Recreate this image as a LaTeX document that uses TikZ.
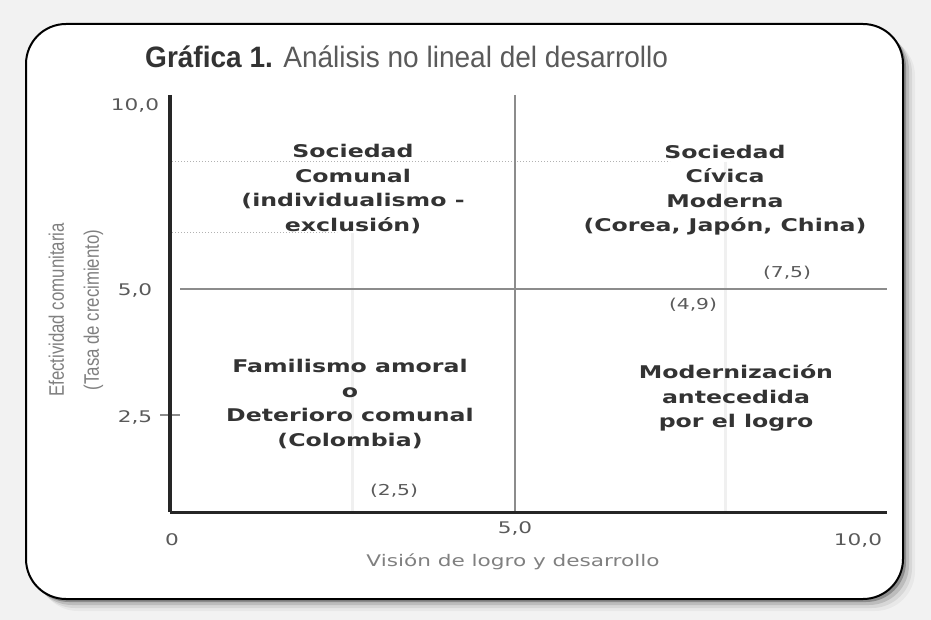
\documentclass[tikz,border=0pt]{standalone}
\usepackage{fontspec}
\usepackage{xcolor}
\usepackage{tikz}
\usetikzlibrary{positioning}
\setmainfont{DejaVu Sans}
\newfontfamily\widefont[FakeStretch=1.35]{DejaVu Sans}
\newfontfamily\titlefont[FakeStretch=0.95]{Liberation Sans}
\newfontfamily\narrowfont[FakeStretch=0.8]{Liberation Sans}
\definecolor{bgGray}{HTML}{F2F2F2}
\definecolor{textDark}{HTML}{333333}
\definecolor{textGray}{HTML}{5A5A5A}
\definecolor{axisGray}{HTML}{8C8C8C}

\begin{document}
\begin{tikzpicture}[
    x=1pt, y=-1pt,
    every node/.style={inner sep=0pt},
    quadrant/.style={font=\widefont\bfseries\fontsize{17.5}{24.5}\selectfont, text=textDark, align=center},
    tickLabel/.style={font=\widefont\fontsize{16}{18}\selectfont, text=textGray},
    pointLabel/.style={font=\widefont\fontsize{15}{17}\selectfont, text=textGray},
    axisTitle/.style={font=\narrowfont\fontsize{21}{35}\selectfont, text=gray, align=center},
    mainAxis/.style={line width=3.5pt, draw=black!85},
    midLine/.style={line width=2.5pt, draw=axisGray},
    guideLine/.style={line width=3pt, draw=black!6},
    dotLine/.style={line width=1pt, draw=gray!60, dotted}
]
\useasboundingbox (0,0) rectangle (931,620);

% Frame
\fill[bgGray] (0,0) rectangle (931,620);
\foreach \s/\op in {12/0.04, 9/0.07, 6/0.12, 3/0.25}
    \fill[black, opacity=\op, rounded corners=40pt] (26+\s,24+\s) rectangle (903+\s,599+\s);
\draw[line width=2pt, fill=white, rounded corners=40pt] (26,24) rectangle (903,599);

% Coordinates
\coordinate (origin) at (170,512);
\coordinate (yTop) at (170,95);
\coordinate (xEnd) at (887,512);
\coordinate (midTop) at (515,95);
\coordinate (midBot) at (515,512);
\coordinate (midLeft) at (180,289);
\coordinate (midRight) at (887,289);
\coordinate (gA) at (352,233);
\coordinate (gAb) at (352,512);
\coordinate (gB) at (725,162);
\coordinate (gBb) at (725,512);
\coordinate (dA) at (172,162);
\coordinate (dAe) at (670,162);
\coordinate (dB) at (172,233);
\coordinate (dBe) at (337,233);
\coordinate (tickA) at (160,415);
\coordinate (tickAe) at (180,415);

% Lines
\draw[guideLine] (gA) -- (gAb);
\draw[guideLine] (gB) -- (gBb);
\draw[dotLine] (dA) -- (dAe);
\draw[dotLine] (dB) -- (dBe);
\draw[midLine] (midTop) -- (midBot);
\draw[midLine] (midLeft) -- (midRight);
\draw[line width=1.5pt, axisGray] (tickA) -- (tickAe);
\draw[mainAxis] (yTop) -- (origin);
\draw[mainAxis, line width=3pt] (origin) -- (xEnd);

% Title
\node[anchor=base west, font=\titlefont\fontsize{29.5}{31}\selectfont, text=textDark] (title) at (145,68)
    {\textbf{Gráfica 1.} \textcolor{textGray}{Análisis no lineal del desarrollo}};

% Quadrants
\node[quadrant] (comunal) at (353,189) {Sociedad\\Comunal\\(individualismo -\\exclusión)};
\node[quadrant] (civica) at (725,190) {Sociedad\\Cívica\\Moderna\\(Corea, Japón, China)};
\node[quadrant] (familismo) at (350,404) {Familismo amoral\\o\\Deterioro comunal\\(Colombia)};
\node[quadrant] (moderniz) at (736,398) {Modernización\\antecedida\\por el logro};

% Points
\node[pointLabel] (p75) at (787,273) {(7,5)};
\node[pointLabel] (p49) at (693,305) {(4,9)};
\node[pointLabel] (p25) at (394,491) {(2,5)};

% Axis labels
\node[tickLabel] (y10) at (135,105) {10,0};
\node[tickLabel] (y5) at (135,290) {5,0};
\node[tickLabel] (y25) at (135,417) {2,5};
\node[tickLabel] (x0) at (172,540) {0};
\node[tickLabel] (x5) at (515,528) {5,0};
\node[tickLabel] (x10) at (858,540) {10,0};
\node[tickLabel, text=gray] (xTitle) at (513,562) {Visión de logro y desarrollo};
\node[axisTitle, rotate=90] (yTitle) at (76,310) {Efectividad comunitaria\\(Tasa de crecimiento)};

\end{tikzpicture}
\end{document}
